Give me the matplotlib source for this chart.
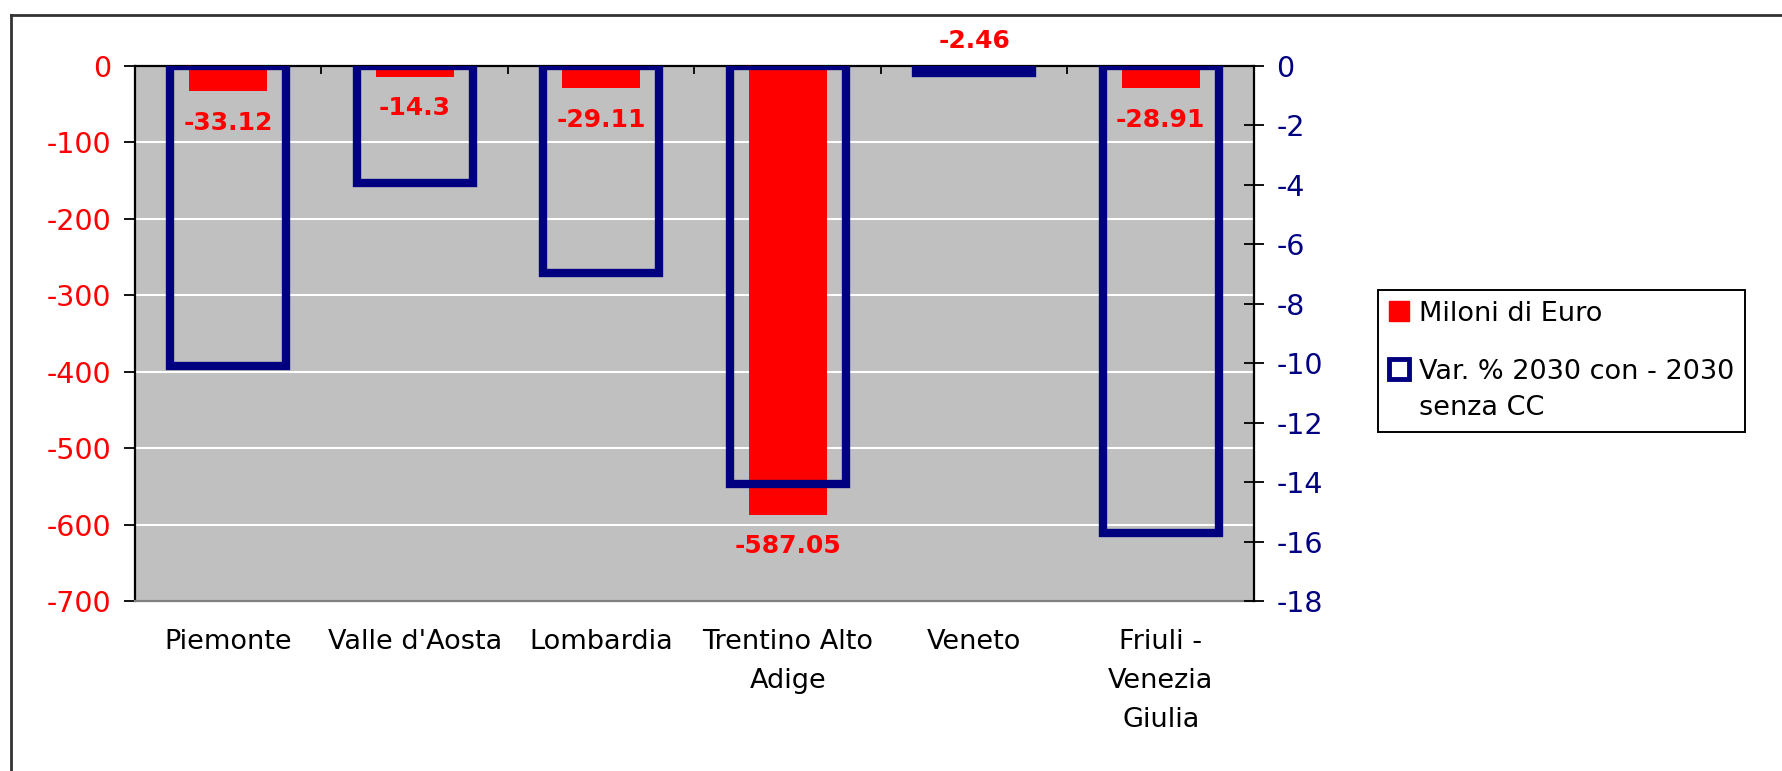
import matplotlib
matplotlib.use("Agg")
import matplotlib.pyplot as plt
import numpy as np
from matplotlib.patches import Patch
from matplotlib.lines import Line2D
from matplotlib.offsetbox import HPacker

plt.rcParams['font.family'] = ['DejaVu Sans']
plt.rcParams['axes.unicode_minus'] = False

# data
regioni = ["Piemonte", "Valle d'Aosta", "Lombardia", "Trentino Alto\nAdige",
           "Veneto", "Friuli -\nVenezia\nGiulia"]
milioni_euro = [-33.12, -14.3, -29.11, -587.05, -2.46, -28.91]
var_perc = [-10.1, -3.95, -6.95, -14.05, -0.25, -15.7]
etichette = ["-33.12", "-14.3", "-29.11", "-587.05", "-2.46", "-28.91"]

left_ticks = [0, -100, -200, -300, -400, -500, -600, -700]
right_ticks = [0, -2, -4, -6, -8, -10, -12, -14, -16, -18]

RED = '#FF0000'
NAVY = '#000080'
FS = 19.5
TFS = 20.5

fig = plt.figure(figsize=(17.83, 7.71), dpi=100)
W, H = 1783, 771
ax = fig.add_axes([135 / W, 1 - 601 / H, (1254 - 135) / W, (601 - 66) / H])
ax2 = ax.twinx()

x = np.arange(len(regioni))

ax.set_facecolor('#C0C0C0')
ax.bar(x, milioni_euro, width=0.42, color=RED, zorder=2)
ax.set_ylim(-700, 0)
ax.set_xlim(-0.5, len(regioni) - 0.5)
ax.set_yticks(left_ticks)
ax.yaxis.grid(True, color='white', linewidth=1.5)
ax.set_axisbelow(True)

ax2.bar(x, var_perc, width=0.62, fill=False, edgecolor=NAVY, linewidth=6,
        joinstyle='miter', zorder=3)
ax2.set_ylim(-18, 0)
ax2.set_yticks(right_ticks)

# data labels
for xi, v, t in zip(x, milioni_euro, etichette):
    if v > -5:
        ax.annotate(t, (xi, v), xytext=(0, 11), textcoords='offset points',
                    ha='center', va='bottom', color=RED, fontsize=18,
                    fontweight='bold', annotation_clip=False)
    else:
        ax.annotate(t, (xi, v), xytext=(0, -14), textcoords='offset points',
                    ha='center', va='top', color=RED, fontsize=18,
                    fontweight='bold')

# x axis: labels at the bottom, ticks between categories on the zero line (top)
ax.set_xticks(x)
ax.set_xticklabels(regioni, fontsize=FS, linespacing=1.65)
ax.set_xticks(np.arange(0.5, len(regioni) - 0.5), minor=True)
ax.tick_params(axis='x', which='major', length=0, pad=20, bottom=True, top=False)
ax.tick_params(axis='x', which='minor', top=True, bottom=False, direction='in',
               length=6, width=1.3, color='black')

ax.tick_params(axis='y', which='major', direction='out', length=8, width=1.3,
               pad=9, labelsize=TFS, labelcolor=RED)
ax2.tick_params(axis='y', which='major', direction='inout', length=14, width=1.3,
                pad=9, labelsize=TFS, labelcolor=NAVY)

for s in ['left', 'top']:
    ax.spines[s].set_color('black')
    ax.spines[s].set_linewidth(1.6)
ax.spines['bottom'].set_color('#808080')
ax.spines['bottom'].set_linewidth(1.6)
ax.spines['right'].set_visible(False)
for s in ['left', 'top', 'bottom']:
    ax2.spines[s].set_visible(False)
ax2.spines['right'].set_color('black')
ax2.spines['right'].set_linewidth(1.6)

# legend
handles = [Patch(facecolor=RED, edgecolor=RED),
           Patch(facecolor='white', edgecolor=NAVY, linewidth=3.5)]
labels = ["Miloni di Euro", "Var. % 2030 con - 2030\nsenza CC"]
leg = fig.legend(handles, labels, loc='upper left',
                 bbox_to_anchor=(1378 / W, 1 - 290 / H), fontsize=FS,
                 frameon=True, fancybox=False, edgecolor='black', framealpha=1,
                 handlelength=0.75, handleheight=0.75, handletextpad=0.35,
                 borderpad=0.4, labelspacing=1.2, borderaxespad=0)
leg.get_frame().set_linewidth(1.4)
leg.texts[1].set_linespacing(1.5)
for hp in leg.findobj(HPacker):
    hp.align = 'top'

# outer frame (only top and left edges visible)
fig.add_artist(Line2D([11 / W, 1], [1 - 15 / H, 1 - 15 / H], color='#333333',
                      linewidth=2, transform=fig.transFigure))
fig.add_artist(Line2D([11 / W, 11 / W], [0, 1 - 15 / H], color='#333333',
                      linewidth=2, transform=fig.transFigure))

fig.savefig('out.png', dpi=100)
